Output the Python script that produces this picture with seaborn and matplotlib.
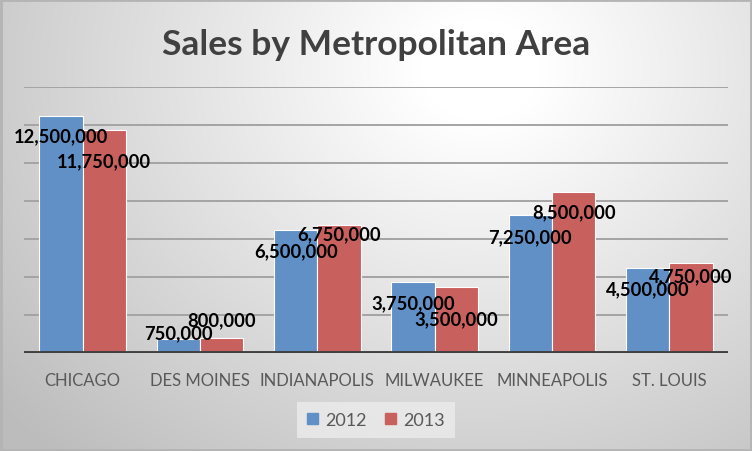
import numpy as np
import pandas as pd
import matplotlib
matplotlib.use("Agg")
import matplotlib.pyplot as plt
from matplotlib.patches import Rectangle
import seaborn as sns

areas = ["CHICAGO", "DES MOINES", "INDIANAPOLIS", "MILWAUKEE", "MINNEAPOLIS", "ST. LOUIS"]
years = ["2012", "2013"]
sales_2012 = [12500000, 750000, 6500000, 3750000, 7250000, 4500000]
sales_2013 = [11750000, 800000, 6750000, 3500000, 8500000, 4750000]

# label placement (pixels below the bar top), one list per year
label_shift_2012 = [20, -6, 21, 21, 21, 21]
label_shift_2013 = [31, -18, 9, 32, 20, 13]

df = pd.DataFrame({
    "area": areas * 2,
    "year": ["2012"] * 6 + ["2013"] * 6,
    "sales": sales_2012 + sales_2013,
})

sns.set_style("white")
plt.rcParams["font.family"] = ["Lato", "DejaVu Sans"]

W, H = 752, 452
fig = plt.figure(figsize=(W / 100, H / 100), dpi=100)

# radial gradient background
bg = fig.add_axes([0, 0, 1, 1], zorder=0)
yy, xx = np.mgrid[0:H, 0:W]
d = np.sqrt(((xx - 480) / 1.0) ** 2 + ((yy - 70) / 0.85) ** 2)
t = np.clip((d - 60) / 560, 0, 1)
shade = 1.0 - t * (1.0 - 0.74)
img = np.dstack([shade, shade, shade])
bg.imshow(img, aspect="auto", extent=[0, W, H, 0])
bg.set_xlim(0, W)
bg.set_ylim(H, 0)
bg.axis("off")
bg.add_patch(Rectangle((1, 1), W - 2, H - 2, fill=False, edgecolor="#b4b4b4", lw=2))

ax = fig.add_axes([24 / W, 98 / H, 704 / W, (354 - 88) / H], zorder=1)
ax.set_facecolor("none")

sns.barplot(data=df, x="area", y="sales", hue="year", hue_order=years,
            palette=["#6190C6", "#C8605D"], width=0.74, gap=0,
            edgecolor="white", linewidth=0.8, saturation=1, ax=ax, legend=False,
            zorder=3)

ax.set_ylim(0, 14000000)
ax.set_yticks(np.arange(2000000, 14000001, 2000000))
ax.set_yticklabels([])
ax.tick_params(axis="y", length=0)
ax.tick_params(axis="x", length=0, pad=14, labelsize=12, labelcolor="#595959")
ax.set_xlabel("")
ax.set_ylabel("")
ax.set_xlim(-0.5, 5.5)
ax.grid(axis="y", color="#a4a4a4", lw=1.4, zorder=1)
ax.set_axisbelow(True)
for s in ax.spines.values():
    s.set_visible(False)
ax.axhline(0, color="#404040", lw=2.8, zorder=4)

shifts = [label_shift_2012, label_shift_2013]
for cont, shift in zip(ax.containers, shifts):
    for bar, dy in zip(cont, shift):
        v = bar.get_height()
        ax.annotate(f"{v:,.0f}", (bar.get_x() + bar.get_width() / 2, v),
                    xytext=(0, -dy), textcoords="offset pixels",
                    ha="center", va="center", fontsize=13.2, fontweight="bold",
                    color="black", zorder=5)

fig.text(0.5, 1 - 45 / H, "Sales by Metropolitan Area", ha="center", va="center",
         fontsize=25.5, fontweight="bold", color="#404040")

handles = [Rectangle((0, 0), 1, 1, color=c) for c in ["#6190C6", "#C8605D"]]
leg = fig.legend(handles, years, loc="center", bbox_to_anchor=(376 / W, 1 - 421 / H),
                 ncol=2, frameon=True, fontsize=13, handlelength=0.6, handleheight=0.6,
                 handletextpad=0.4, columnspacing=1.0, borderpad=0.45)
leg.get_frame().set_facecolor("#ececec")
leg.get_frame().set_edgecolor("none")
leg.get_frame().set_alpha(0.8)
leg.get_frame().set_boxstyle("square", pad=0.1)
for txt in leg.get_texts():
    txt.set_color("#595959")

fig.savefig("out.png", dpi=100)
